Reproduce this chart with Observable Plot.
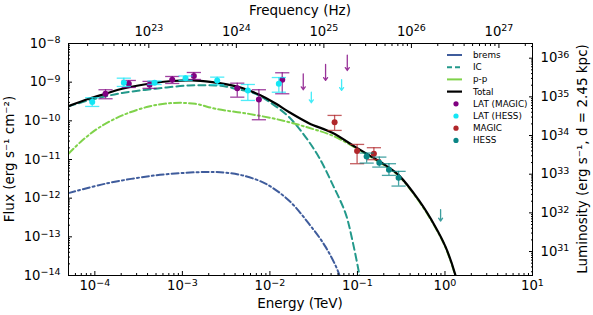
<!DOCTYPE html>
<html><head><meta charset="utf-8">
<script src="https://cdn.jsdelivr.net/npm/d3@7"></script>
<script src="https://cdn.jsdelivr.net/npm/@observablehq/plot@0.6"></script>
<style>body{margin:0;background:#fff;} svg{display:block;}</style>
</head><body><div id="chart"></div>
<script>
// ---- model curves (log10 E [TeV], log10 flux [erg s^-1 cm^-2]) ----
const totalLogE = [-4.301,-4.069,-3.878,-3.687,-3.383,-3.116,-2.888,-2.659,-2.507,-2.316,-2.126,-1.935,-1.783,-1.555,-1.287,-1.021,-0.83,-0.678,-0.526,-0.297,-0.107,0.007,0.114,0.14];
const totalLogF = [-9.62,-9.43,-9.30,-9.17,-9.04,-8.97,-8.955,-9.0,-9.05,-9.15,-9.32,-9.55,-9.77,-10.06,-10.31,-10.68,-10.94,-11.15,-11.41,-12.06,-12.75,-13.26,-13.95,-14.2];
const icLogE = [-4.301,-4.069,-3.687,-3.307,-2.926,-2.621,-2.507,-2.393,-2.164,-1.973,-1.783,-1.592,-1.44,-1.287,-1.135,-1.058,-0.981,-0.965];
const icLogF = [-9.63,-9.47,-9.28,-9.17,-9.085,-9.085,-9.11,-9.17,-9.30,-9.56,-9.90,-10.42,-10.94,-11.63,-12.40,-13.09,-13.95,-14.2];
const bremsLogE = [-4.301,-3.878,-3.307,-2.85,-2.621,-2.507,-2.316,-2.05,-1.783,-1.555,-1.364,-1.212,-1.19];
const bremsLogF = [-11.87,-11.625,-11.41,-11.33,-11.325,-11.34,-11.41,-11.625,-12.06,-12.66,-13.26,-13.95,-14.2];
const ppLogE = [-4.301,-4.145,-3.955,-3.687,-3.383,-3.116,-2.85,-2.621,-2.24,-1.859,-1.555,-1.287,-1.021,-0.83,-0.678,-0.526,-0.297,-0.107,0.007,0.114,0.14];
const ppLogF = [-10.85,-10.51,-10.18,-9.86,-9.63,-9.54,-9.56,-9.69,-9.82,-9.99,-10.18,-10.38,-10.70,-10.96,-11.17,-11.43,-12.08,-12.77,-13.28,-13.97,-14.2];

// ---- data points ----
const latMagicE  = [-3.878,-3.612,-3.375,-3.116,-2.869,-2.373,-2.126,-1.859];
const latMagicF  = [-9.30,-9.041,-9.067,-8.938,-8.84,-9.155,-9.447,-8.938];
const latMagicLo = [-9.429,-9.137,-9.16,-9.034,-8.93,-9.388,-9.972,-9.30];
const latMagicHi = [-9.196,-8.956,-8.98,-8.853,-8.75,-9.026,-9.196,-8.757];
const latMagicUlE = [-1.619,-1.364,-1.116];
const latMagicUlF = [-8.783,-8.543,-8.30];
const latMagicUlEnd = [-9.196,-8.956,-8.698];

const latHessE  = [-4.030,-3.669,-3.318,-2.964,-2.602,-2.252,-1.898];
const latHessF  = [-9.512,-9.016,-9.016,-8.897,-8.956,-9.214,-9.041];
const latHessLo = [-9.628,-9.111,-9.06,-8.956,-9.067,-9.473,-9.26];
const latHessHi = [-9.403,-8.897,-8.97,-8.84,-8.87,-9.06,-8.88];
const latHessUlE = [-1.527,-1.181];
const latHessUlF = [-9.258,-8.938];
const latHessUlEnd = [-9.532,-9.214];

const magicE  = [-1.261,-1.004,-0.812];
const magicF  = [-10.034,-10.783,-10.85];
const magicLo = [-10.248,-11.109,-11.005];
const magicHi = [-9.86,-10.61,-10.695];

const hessE  = [-0.895,-0.750,-0.640,-0.530];
const hessF  = [-10.92,-11.083,-11.264,-11.47];
const hessLo = [-11.093,-11.196,-11.411,-11.687];
const hessHi = [-10.834,-10.938,-11.109,-11.307];
const hessUlE = [-0.050];
const hessUlF = [-12.297];
const hessUlEnd = [-12.592];

// ---- axis tick exponents ----
const energyExp = [-4,-3,-2,-1,0,1];
const fluxExp = [-14,-13,-12,-11,-10,-9,-8];
const freqExp = [23,24,25,26,27];
const lumExp = [31,32,33,34,35,36];

const TEV_PER_HZ = 4.1357e-27;   // h in TeV s
const LUM_FACTOR = Math.pow(10, 44.38);

const series = [
  {name:"brems", color:"#3f5c9c", dash:"7,3,2,3", e:bremsLogE, f:bremsLogF},
  {name:"IC", color:"#23998b", dash:"7,4", e:icLogE, f:icLogF},
  {name:"p-p", color:"#7fd24a", dash:"7,3,2,3", e:ppLogE, f:ppLogF},
  {name:"Total", color:"#000000", dash:null, e:totalLogE, f:totalLogF}
];
const pointSets = [
  {name:"LAT (MAGIC)", color:"#800080", e:latMagicE, f:latMagicF, lo:latMagicLo, hi:latMagicHi, ue:latMagicUlE, uf:latMagicUlF, uend:latMagicUlEnd},
  {name:"LAT (HESS)", color:"#14e6f5", e:latHessE, f:latHessF, lo:latHessLo, hi:latHessHi, ue:latHessUlE, uf:latHessUlF, uend:latHessUlEnd},
  {name:"MAGIC", color:"#b0262a", e:magicE, f:magicF, lo:magicLo, hi:magicHi, ue:[], uf:[], uend:[]},
  {name:"HESS", color:"#0a8585", e:hessE, f:hessF, lo:hessLo, hi:hessHi, ue:hessUlE, uf:hessUlF, uend:hessUlEnd}
];

const p10 = v => Math.pow(10, v);
const sup = k => "10^" + k;   // rewritten to real superscripts after render
const minors = (lo, hi) => { const out=[]; for (let k=lo;k<=hi;k++) for (let m=2;m<=9;m++) out.push(m*Math.pow(10,k)); return out; };

const xDomain = [5e-5, 10], yDomain = [1e-14, 1e-8];
const inX = v => v >= xDomain[0] && v <= xDomain[1];
const inY = v => v >= yDomain[0] && v <= yDomain[1];

const capSymbol = { draw(ctx, size) { const w = Math.sqrt(size); ctx.moveTo(-w, 0); ctx.lineTo(w, 0); } };

const lineMarks = series.map(s => Plot.line(s.e.map((e,i)=>({x:p10(e), y:p10(s.f[i])})), {
  x:"x", y:"y", stroke:s.color, strokeWidth: s.name==="Total"?2.2:2, strokeDasharray:s.dash, curve:"catmull-rom", clip:true
}));

const pointMarks = [];
for (const s of pointSets) {
  const rows = s.e.map((e,i)=>({x:p10(e), y:p10(s.f[i]), lo:p10(s.lo[i]), hi:p10(s.hi[i])}));
  const uls = s.ue.map((e,i)=>({x:p10(e), y1:p10(s.uf[i]), y2:p10(s.uend[i])}));
  pointMarks.push(
    Plot.ruleX(rows, {x:"x", y1:"lo", y2:"hi", stroke:s.color, strokeWidth:1.3, strokeOpacity:0.75}),
    Plot.dot(rows, {x:"x", y:"lo", symbol:capSymbol, r:4, stroke:s.color, strokeWidth:1.3, strokeOpacity:0.75, fill:"none"}),
    Plot.dot(rows, {x:"x", y:"hi", symbol:capSymbol, r:4, stroke:s.color, strokeWidth:1.3, strokeOpacity:0.75, fill:"none"}),
    Plot.arrow(uls, {x1:"x", y1:"y1", x2:"x", y2:"y2", stroke:s.color, strokeWidth:1.3, strokeOpacity:0.8, headLength:4, headAngle:70}),
    Plot.dot(rows, {x:"x", y:"y", r:3, fill:s.color, stroke:"none"})
  );
}

const none = () => "";
const TF = 13.2;
const plot = Plot.plot({
  width: 593, height: 315,
  marginLeft: 68, marginRight: 61, marginTop: 43, marginBottom: 40,
  style: {fontFamily: "DejaVu Sans, sans-serif", fontSize: "12px", background: "#fff", color: "#000"},
  x: {type: "log", domain: xDomain},
  y: {type: "log", domain: yDomain},
  marks: [
    ...lineMarks,
    ...pointMarks,
    // bottom energy axis
    Plot.axisX({anchor:"bottom", ticks: minors(-5,0).filter(inX), tickSize:-2, tickFormat: none, label:null}),
    Plot.axisX({anchor:"bottom", ticks: energyExp.map(p10), tickSize:-4, tickFormat: none, label:null}),
    Plot.text(energyExp, {x: k => p10(k), text: k => sup(k), frameAnchor:"bottom", dy: 5, lineAnchor:"top", fontSize: TF}),
    // top frequency axis
    Plot.axisX({anchor:"top", ticks: minors(21,27).map(v=>v*TEV_PER_HZ).filter(inX), tickSize:-2, tickFormat: none, label:null}),
    Plot.axisX({anchor:"top", ticks: freqExp.map(k=>p10(k)*TEV_PER_HZ), tickSize:-4, tickFormat: none, label:null}),
    Plot.text(freqExp, {x: k => p10(k)*TEV_PER_HZ, text: k => sup(k), frameAnchor:"top", dy: -8, lineAnchor:"bottom", fontSize: TF}),
    // left flux axis
    Plot.axisY({anchor:"left", ticks: minors(-15,-9).filter(inY), tickSize:-2, tickFormat: none, label:null}),
    Plot.axisY({anchor:"left", ticks: fluxExp.map(p10), tickSize:-4, tickFormat: none, label:null}),
    Plot.text(fluxExp, {y: k => p10(k), text: k => sup(k), frameAnchor:"left", dx: -8, textAnchor:"end", fontSize: TF}),
    // right luminosity axis
    Plot.axisY({anchor:"right", ticks: minors(30,36).map(v=>v/LUM_FACTOR).filter(inY), tickSize:-2, tickFormat: none, label:null}),
    Plot.axisY({anchor:"right", ticks: lumExp.map(k=>p10(k)/LUM_FACTOR), tickSize:-4, tickFormat: none, label:null}),
    Plot.text(lumExp, {y: k => p10(k)/LUM_FACTOR, text: k => sup(k), frameAnchor:"right", dx: 8, textAnchor:"start", fontSize: TF}),
    Plot.frame({stroke:"#000", strokeWidth:1})
  ]
});
document.getElementById("chart").appendChild(plot);

const svg = d3.select(plot);
// rewrite "10^k" into 10 + superscript
svg.selectAll("text").each(function() {
  const m = /^10\^(-?\d+)$/.exec(this.textContent);
  if (!m) return;
  const t = d3.select(this);
  t.text(null);
  t.append("tspan").text("10");
  t.append("tspan").attr("dy", "-0.45em").attr("font-size", "0.72em").text(m[1].replace("-", "\u2212"));
});

// axis titles and legend
const T = (x, y, txt, rot) => {
  const t = svg.append("text").attr("x", x).attr("y", y).attr("text-anchor","middle")
    .attr("font-family","DejaVu Sans, sans-serif").attr("font-size", 13.5).attr("fill","#000").text(txt);
  if (rot) t.attr("transform", `rotate(-90 ${x} ${y})`);
};
T(300, 308, "Energy (TeV)");
T(300, 15, "Frequency (Hz)");
T(14, 159, "Flux (erg s\u207B\u00B9 cm\u207B\u00B2)", true);
T(587, 159, "Luminosity (erg s\u207B\u00B9, d = 2.45 kpc)", true);

const lg = svg.append("g").attr("font-family","DejaVu Sans, sans-serif").attr("font-size", 8.8).attr("text-anchor","start");
let ly = 55;
for (const s of series) {
  lg.append("line").attr("x1",447).attr("x2",462).attr("y1",ly).attr("y2",ly)
    .attr("stroke", s.color).attr("stroke-width", s.name==="Total"?2.2:2).attr("stroke-dasharray", s.name==="IC"?"5,3":null);
  lg.append("text").attr("x",473).attr("y",ly).attr("dy","0.35em").attr("text-anchor","start").text(s.name);
  ly += 12.2;
}
for (const s of pointSets) {
  lg.append("circle").attr("cx",456).attr("cy",ly).attr("r",2.6).attr("fill",s.color);
  lg.append("text").attr("x",473).attr("y",ly).attr("dy","0.35em").attr("text-anchor","start").text(s.name);
  ly += 12.2;
}
</script>
</body></html>
